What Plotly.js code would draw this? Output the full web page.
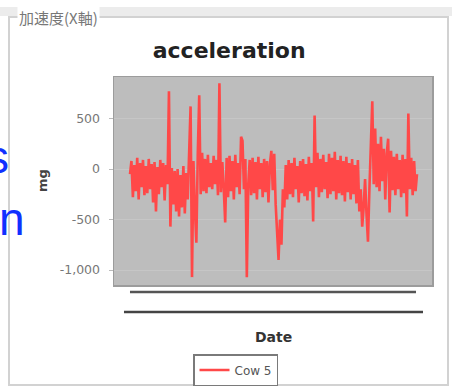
<!DOCTYPE html>
<html>
<head>
<meta charset="utf-8">
<script src="https://cdn.plot.ly/plotly-3.0.1.min.js"></script>
<style>html,body{margin:0;padding:0;background:#fff;}#chart{width:452px;height:388px;}</style>
</head>
<body>
<div id="chart"></div>
<script>
// Series: acceleration (mg) along X axis for "Cow 5" in time order
const seriesName = "Cow 5";
const accelerationMg = [
  -50, 80, -280, 40, -220, 110, -300, 60, -180, 90,
  -260, 30, -240, 100, -200, 50, -330, 70, -420, 20,
  -250, 90, -180, 60, -310, 40, -150, 770, -570, 10,
  -350, -20, -420, 0, -470, -60, -380, 30, -440, -40,
  -300, 120, 620, -1070, 80, -400, -730, 150, 730, -250,
  160, -220, 100, -240, 140, -180, 60, -200, 130, -150,
  90, -260, 850, -230, 70, -190, -530, 110, -280, 130,
  -220, 80, -300, 140, -180, 60, -250, 320, 280, -200,
  100, -1070, -150, 90, -260, 110, -240, 70, -300, 120,
  -200, 60, -280, 100, -230, 80, -330, 50, 180, -210,
  150, -350, -600, -900, -500, -750, -200, -380, 40, -300,
  90, -250, 60, -280, 110, -200, 30, -330, 80, -240,
  100, -270, 50, -310, 120, -220, 60, -520, 530, -180,
  160, -280, 100, -230, 140, -200, 70, -290, 150, -250,
  110, -220, 170, -300, 90, -240, 130, -260, 80, -320,
  120, -230, 60, -300, 100, -250, 40, -340, 90, -420,
  -200, -570, -380, -100, -450, -720, -200, 300, 670, -150,
  400, -180, 250, -220, 320, -120, 200, -300, 150, 300,
  -430, 180, -210, 120, -260, 150, -200, 90, -280, 140,
  -240, 100, -470, 550, -200, 110, -260, 80, -220, -50
];
const yTickValues = [-1000, -500, 0, 500];
const yTickLabels = ["-1,000", "-500", "0", "500"];
const chartTitle = "acceleration";
const panelLabel = "加速度(X軸)";
const xAxisTitle = "Date";
const yAxisTitle = "mg";

const trace = {
  type: "scatter",
  mode: "lines",
  name: seriesName,
  y: accelerationMg,
  line: {color: "#ff4848", width: 2.6},
  hoverinfo: "y"
};

const font = "DejaVu Sans, Verdana, sans-serif";

const layout = {
  width: 452, height: 388,
  margin: {l: 114, r: 20, t: 77, b: 103, pad: 0, autoexpand: false},
  paper_bgcolor: "#ffffff",
  plot_bgcolor: "#bdbdbd",
  title: {
    text: "<b>" + chartTitle + "</b>",
    font: {family: font, size: 22, color: "#222"},
    xref: "container", yref: "container",
    x: 0.507, xanchor: "center", y: 0.871, yanchor: "middle"
  },
  xaxis: {
    range: [-11.1, 209.4],
    showticklabels: false, showgrid: false, zeroline: false,
    ticks: "", showline: true, mirror: true, linecolor: "#9c9c9c", linewidth: 1.5
  },
  yaxis: {
    range: [-1148, 911],
    tickvals: yTickValues, ticktext: yTickLabels,
    tickfont: {family: font, size: 12.5, color: "#777"},
    ticks: "outside", ticklen: 4, tickcolor: "#bbb",
    ticklabelstandoff: 6,
    showgrid: true, gridcolor: "#c6c6c6", gridwidth: 1,
    zeroline: false,
    showline: true, mirror: true, linecolor: "#9c9c9c", linewidth: 1.5
  },
  showlegend: true,
  legend: {
    xref: "container", yref: "container",
    x: 0.427, y: 0.0876, xanchor: "left", yanchor: "top",
    orientation: "v",
    bgcolor: "#ffffff", bordercolor: "#7a7a7a", borderwidth: 1.5,
    font: {family: font, size: 12, color: "#555"}
  },
  shapes: [
    {type: "rect", xref: "paper", yref: "paper", x0: -0.3585, x1: 1.0629, y0: 1.2933, y1: 1.3365,
     fillcolor: "#ececec", line: {width: 0}, layer: "below"},
    {type: "rect", xref: "paper", yref: "paper", x0: -0.3302, x1: 1.0503, y0: -0.4808, y1: 1.2885,
     fillcolor: "rgba(0,0,0,0)", line: {color: "#d2d2d2", width: 2}, layer: "below"},
    {type: "line", xref: "paper", yref: "paper", x0: 0.0503, x1: 0.9497, y0: -0.0337, y1: -0.0337,
     line: {color: "#555", width: 2.5}},
    {type: "line", xref: "paper", yref: "paper", x0: 0.0314, x1: 0.9717, y0: -0.1298, y1: -0.1298,
     line: {color: "#444", width: 2.5}}
  ],
  annotations: [
    {text: panelLabel, xref: "paper", yref: "paper", x: -0.305, y: 1.2837,
     xanchor: "left", yanchor: "middle", showarrow: false, bgcolor: "#ffffff", borderpad: 1,
     font: {family: "Noto Sans CJK JP, sans-serif", size: 15, color: "#777"}},
    {text: "<b>" + xAxisTitle + "</b>", xref: "paper", yref: "paper", x: 0.5, y: -0.25,
     xanchor: "center", yanchor: "middle", showarrow: false,
     font: {family: font, size: 14, color: "#333"}},
    {text: "<b>" + yAxisTitle + "</b>", xref: "paper", yref: "paper", x: -0.2264, y: 0.5,
     xanchor: "center", yanchor: "middle", showarrow: false, textangle: -90,
     font: {family: font, size: 13, color: "#444"}},
    {text: "s", xref: "paper", yref: "paper", x: -0.3286, y: 0.615,
     xanchor: "right", yanchor: "middle", showarrow: false, borderpad: 0,
     font: {family: "Liberation Sans, Arial, sans-serif", size: 46, color: "#1030ff"}},
    {text: "n", xref: "paper", yref: "paper", x: -0.2767, y: 0.318,
     xanchor: "right", yanchor: "middle", showarrow: false, borderpad: 0,
     font: {family: "Liberation Sans, Arial, sans-serif", size: 46, color: "#1030ff"}}
  ]
};

Plotly.newPlot("chart", [trace], layout, {staticPlot: true, displayModeBar: false});
</script>
</body>
</html>
